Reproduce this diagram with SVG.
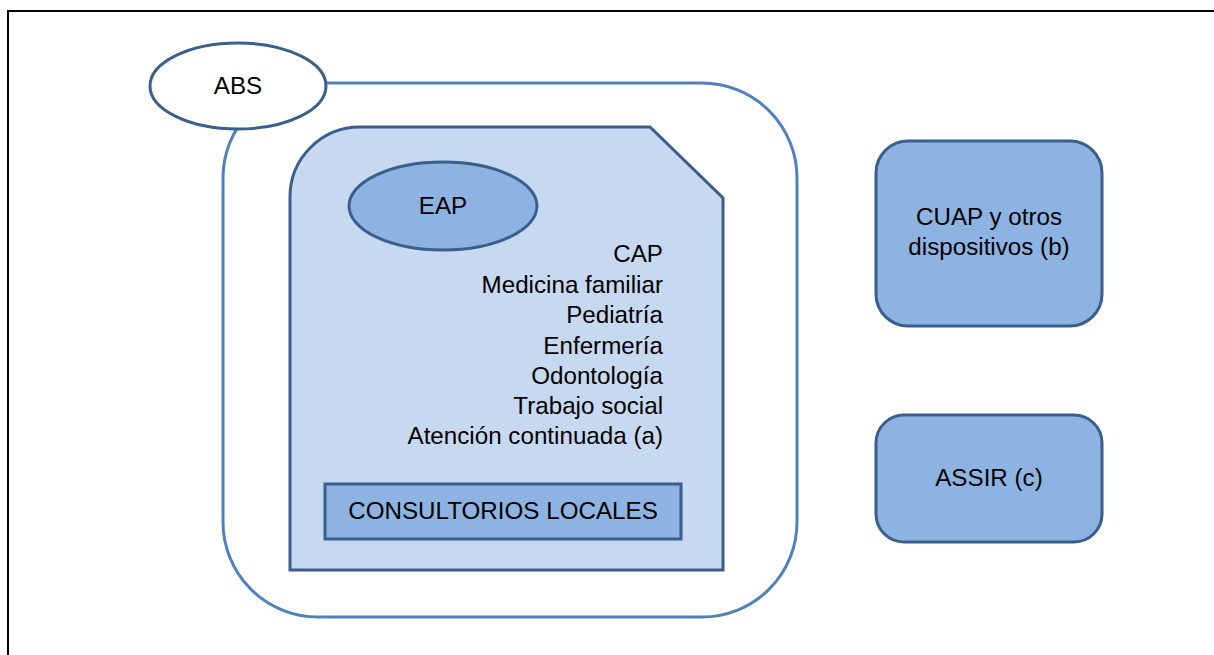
<svg xmlns="http://www.w3.org/2000/svg" width="1214" height="655" viewBox="0 0 1214 655">
<style>
text{font-family:"Liberation Sans",Arial,sans-serif;font-size:24.2px;fill:#000}
.dark{stroke:#3a5f8e;stroke-width:3}
.mid{fill:#8db3e2}
.light{fill:#c6d9f1}
</style>
<rect width="1214" height="655" fill="#fff"/>
<path d="M8,655 L8,11 L1214,11" fill="none" stroke="#000" stroke-width="2"/>
<g id="abs-area">
<rect x="223" y="83" width="574" height="534" rx="95" ry="95" fill="none" stroke="#4f81bd" stroke-width="3"/>
</g>
<g id="abs">
<ellipse cx="238" cy="86" rx="88" ry="43" fill="#fff" class="dark"/>
<text x="238" y="94" text-anchor="middle">ABS</text>
</g>
<g id="cap">
<path d="M290,197 A70,70 0 0 1 360,127 L650,127 L723,198 L723,570 L290,570 Z" class="light dark"/>
<g text-anchor="end">
<text x="663" y="262">CAP</text>
<text x="663" y="293">Medicina familiar</text>
<text x="663" y="323">Pediatría</text>
<text x="663" y="354">Enfermería</text>
<text x="663" y="384">Odontología</text>
<text x="663" y="414">Trabajo social</text>
<text x="663" y="444">Atención continuada (a)</text>
</g>
</g>
<g id="eap">
<ellipse cx="443" cy="206" rx="94" ry="44" class="mid dark"/>
<text x="443" y="214" text-anchor="middle">EAP</text>
</g>
<g id="consultorios">
<rect x="325" y="484" width="356" height="55" class="mid dark"/>
<text x="503" y="519" text-anchor="middle">CONSULTORIOS LOCALES</text>
</g>
<g id="cuap">
<rect x="876" y="141" width="226" height="185" rx="32" ry="32" class="mid dark"/>
<text x="989" y="225" text-anchor="middle">CUAP y otros</text>
<text x="989" y="255" text-anchor="middle">dispositivos (b)</text>
</g>
<g id="assir">
<rect x="876" y="415" width="226" height="127" rx="28" ry="28" class="mid dark"/>
<text x="989" y="486" text-anchor="middle">ASSIR (c)</text>
</g>
<g id="connectors"></g>
</svg>
